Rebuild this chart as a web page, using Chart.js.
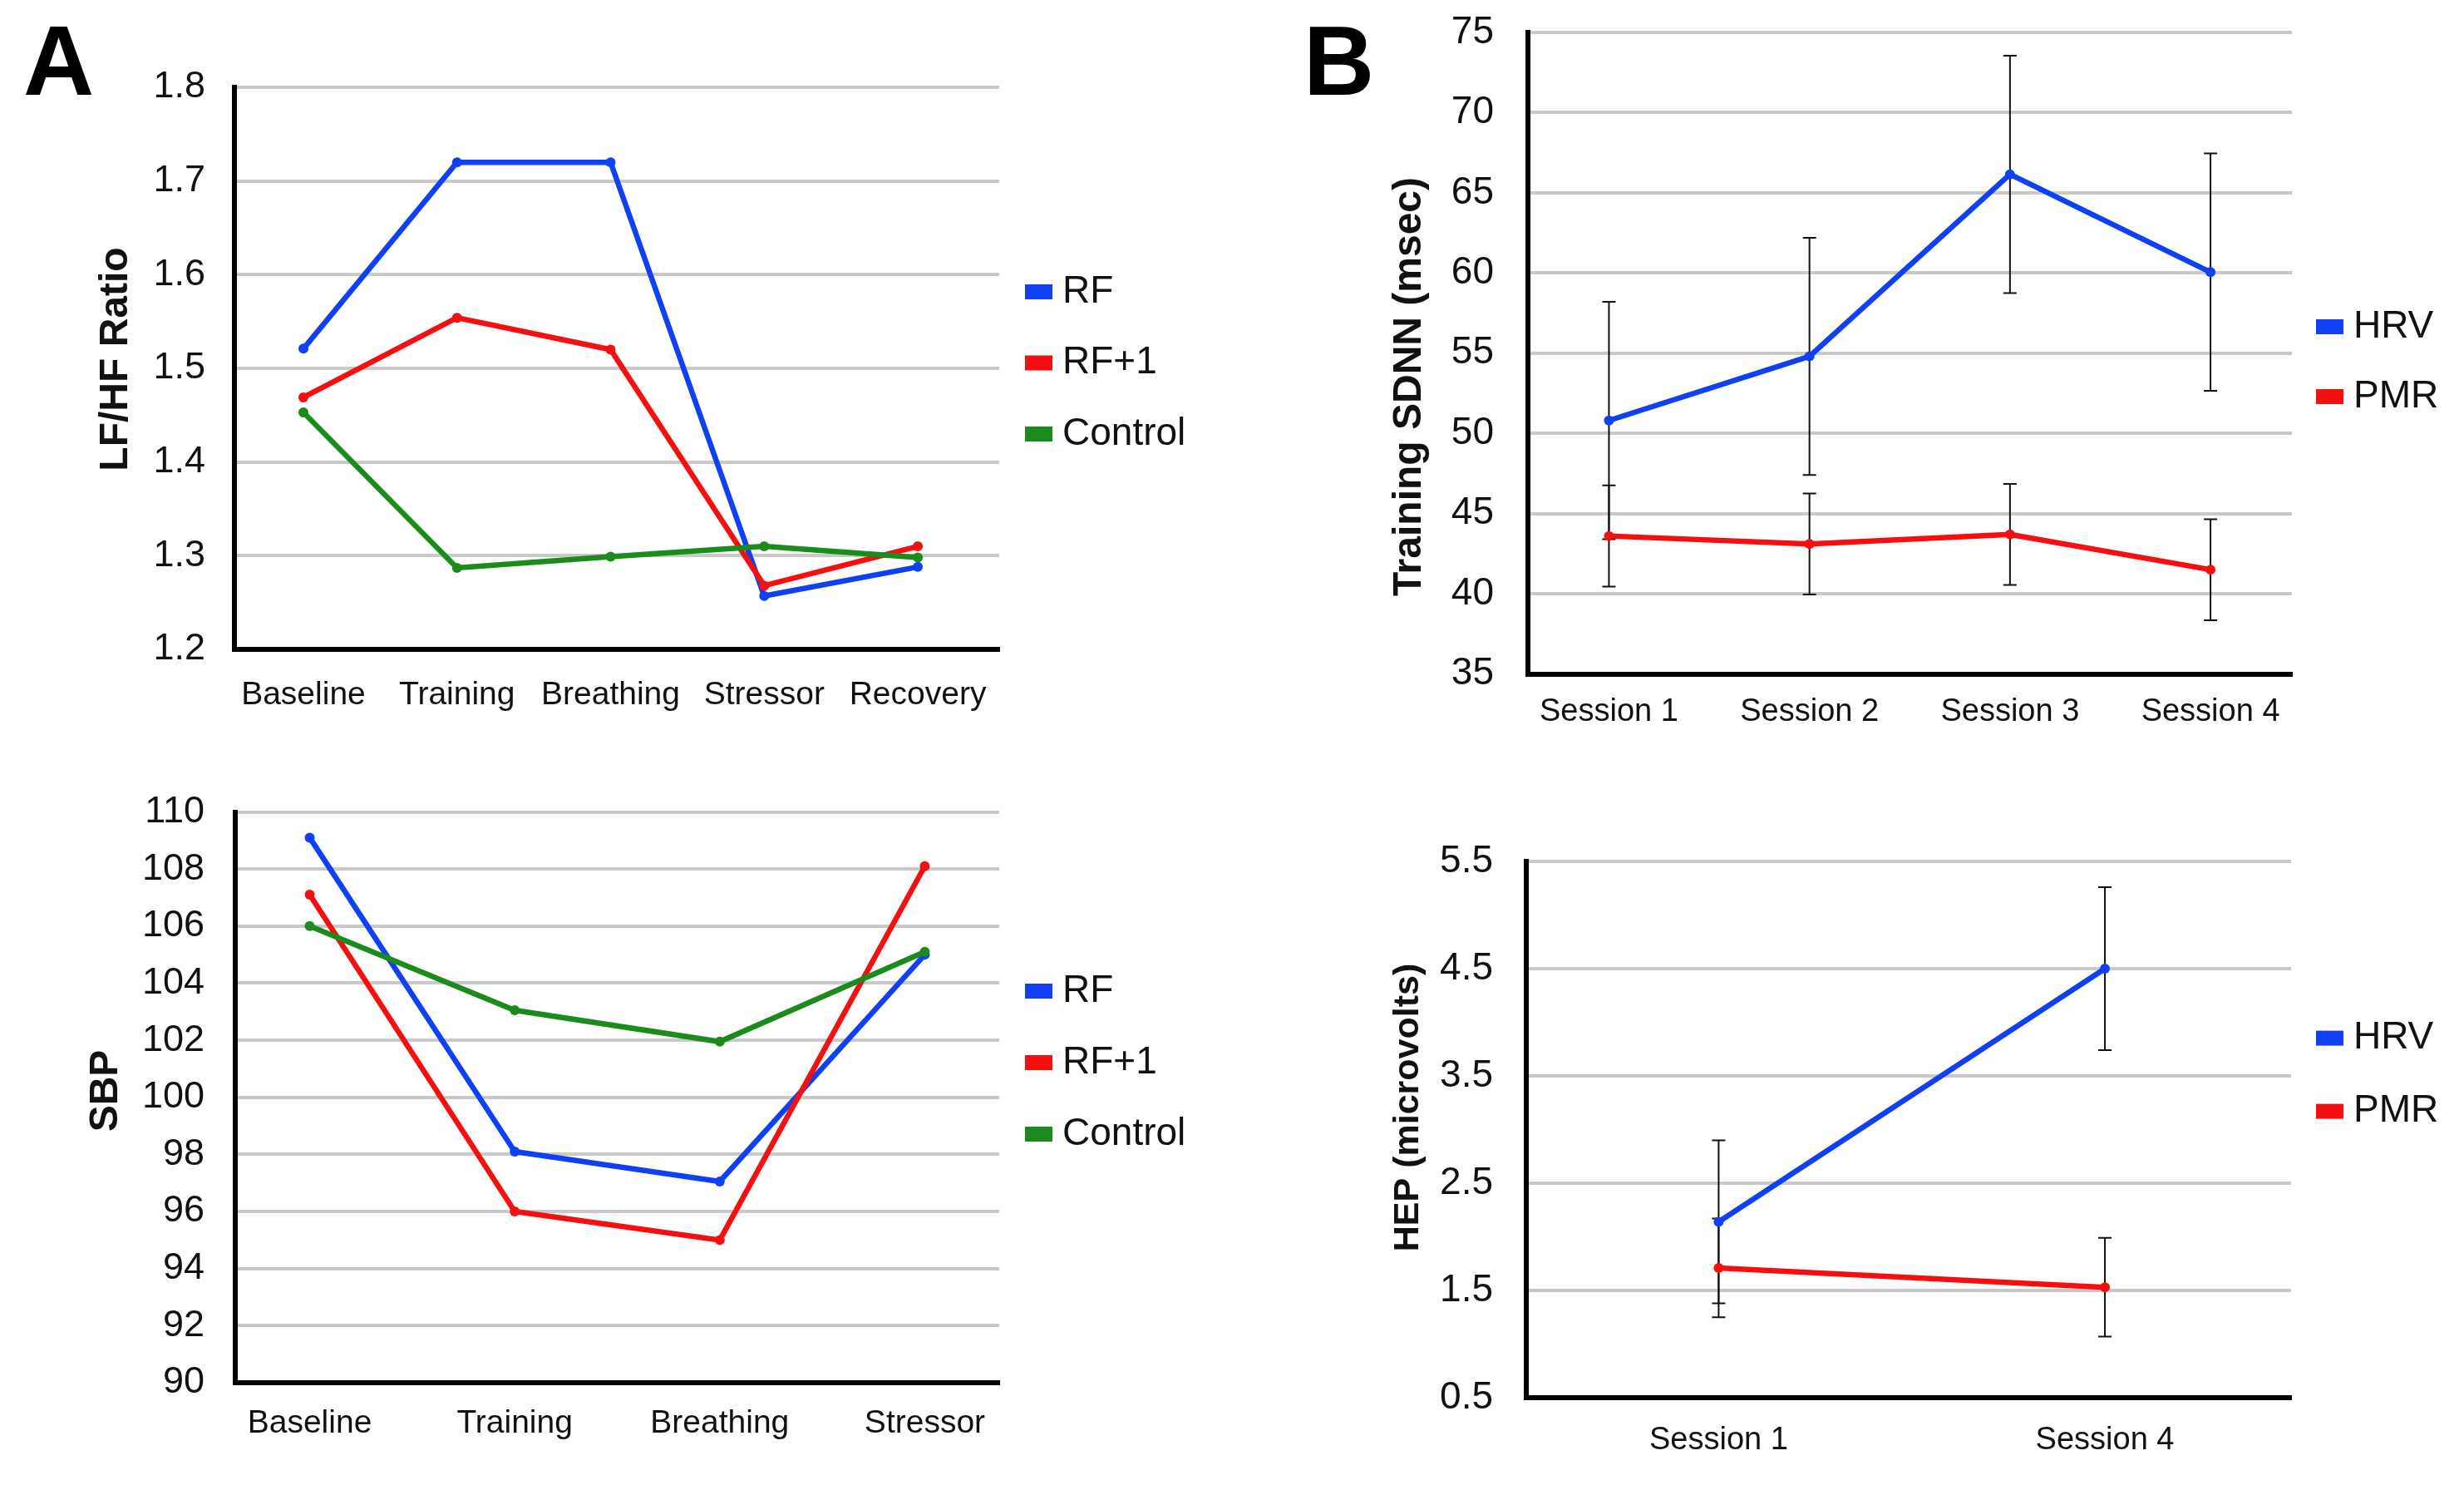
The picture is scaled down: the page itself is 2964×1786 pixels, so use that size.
<!DOCTYPE html>
<html>
<head>
<meta charset="utf-8">
<script src="https://cdn.jsdelivr.net/npm/chart.js@4.4.1/dist/chart.umd.min.js"></script>
<style>
    body { margin: 0; background: #fff; width: 2964px; height: 1786px; position: relative; overflow: hidden; }
    canvas { position: absolute; }
    .panel { position: absolute; font-family: "Liberation Sans", Arial, sans-serif; font-weight: bold; font-size: 118px; line-height: 1; color: #000; }
</style>
</head>
<body>
<div class="panel" style="left:28px;top:14px">A</div>
<div class="panel" style="left:1568px;top:14px">B</div>
<canvas id="lfhf" width="1480" height="893" style="left:0;top:0"></canvas>
<canvas id="sbp" width="1480" height="893" style="left:0;top:893px"></canvas>
<canvas id="sdnn" width="1484" height="893" style="left:1480px;top:0"></canvas>
<canvas id="hep" width="1484" height="893" style="left:1480px;top:893px"></canvas>
<script>
var fontFamily = '"Liberation Sans", Arial, sans-serif'
var blue = '#1040f4'
var red = '#f41010'
var green = '#1b8c1b'

// categories
var phases5 = ['Baseline', 'Training', 'Breathing', 'Stressor', 'Recovery']
var phases4 = ['Baseline', 'Training', 'Breathing', 'Stressor']
var sessions4 = ['Session 1', 'Session 2', 'Session 3', 'Session 4']
var sessions2 = ['Session 1', 'Session 4']

// A top: LF/HF ratio
var lfhfRF = [1.521, 1.72, 1.72, 1.257, 1.288]
var lfhfRF1 = [1.469, 1.554, 1.52, 1.268, 1.31]
var lfhfControl = [1.453, 1.287, 1.299, 1.31, 1.298]

// A bottom: SBP
var sbpRF = [109.1, 98.1, 97.05, 105.0]
var sbpRF1 = [107.1, 96.0, 95.0, 108.1]
var sbpControl = [106.0, 103.05, 101.95, 105.1]

// B top: training SDNN (msec) with error bars
var sdnnHRV = [50.8, 54.8, 66.15, 60.05]
var sdnnHRVErr = [7.4, 7.4, 7.4, 7.4]
var sdnnPMR = [43.6, 43.1, 43.7, 41.5]
var sdnnPMRErr = [3.15, 3.15, 3.15, 3.15]

// B bottom: HEP (microvolts) with error bars
var hepHRV = [2.14, 4.5]
var hepHRVErr = [0.76, 0.76]
var hepPMR = [1.71, 1.53]
var hepPMRErr = [0.46, 0.46]

Chart.defaults.font.family = fontFamily
Chart.defaults.color = '#111'

//error bars go under the lines like the original
var errorBars = {
    id: 'errorBars',
    beforeDatasetsDraw: function (chart) {
        var ctx = chart.ctx
        var yScale = chart.scales.y
        ctx.save()
        ctx.strokeStyle = '#111'
        ctx.lineWidth = 2
        chart.data.datasets.forEach(function (ds, i) {
            if (!ds.errors) return
            chart.getDatasetMeta(i).data.forEach(function (pt, j) {
                var v = ds.data[j].y
                var e = ds.errors[j]
                var top = yScale.getPixelForValue(v + e)
                var bot = yScale.getPixelForValue(v - e)
                ctx.beginPath()
                ctx.moveTo(pt.x, top)
                ctx.lineTo(pt.x, bot)
                ctx.moveTo(pt.x - 8, top)
                ctx.lineTo(pt.x + 8, top)
                ctx.moveTo(pt.x - 8, bot)
                ctx.lineTo(pt.x + 8, bot)
                ctx.stroke()
            })
        })
        ctx.restore()
    }
}

var sideLegend = {
    id: 'sideLegend',
    afterDraw: function (chart, args, opts) {
        var ctx = chart.ctx
        ctx.save()
        ctx.font = opts.size + 'px ' + fontFamily
        ctx.textBaseline = 'middle'
        chart.data.datasets.forEach(function (ds, i) {
            var y = opts.top + i * opts.gap
            ctx.fillStyle = ds.borderColor
            ctx.fillRect(opts.left, y - 9, 33, 18)
            ctx.fillStyle = '#111'
            ctx.fillText(ds.label, opts.left + 45, y)
        })
        ctx.restore()
    }
}

var sideTitle = {
    id: 'sideTitle',
    afterDraw: function (chart, args, opts) {
        var ctx = chart.ctx
        ctx.save()
        ctx.translate(opts.x, opts.y)
        ctx.rotate(-Math.PI / 2)
        ctx.font = 'bold ' + opts.size + 'px ' + fontFamily
        ctx.textAlign = 'center'
        ctx.textBaseline = 'middle'
        ctx.fillStyle = '#111'
        ctx.fillText(opts.text, 0, 0)
        ctx.restore()
    }
}

function lineSet(label, color, values, errors, order) {
    return {
        label: label,
        data: values.map(function (v, i) { return { x: i, y: v } }),
        errors: errors,
        borderColor: color,
        backgroundColor: color,
        borderWidth: 6.5,
        pointRadius: 6,
        pointHoverRadius: 6,
        pointBorderWidth: 0,
        tension: 0,
        order: order
    }
}

function newLineChart(id, labels, sets, o) {
    var canvas = document.getElementById(id)
    new Chart(canvas.getContext('2d'), {
        type: 'line',
        data: { datasets: sets },
        plugins: [errorBars, sideLegend, sideTitle],
        options: {
            responsive: false,
            animation: false,
            devicePixelRatio: 1,
            layout: {
                autoPadding: false,
                padding: { top: o.top, right: canvas.width - o.right, left: 0, bottom: 0 }
            },
            plugins: {
                legend: { display: false },
                tooltip: { enabled: false },
                sideLegend: o.legend,
                sideTitle: o.title
            },
            scales: {
                x: {
                    type: 'linear',
                    min: o.xMin,
                    max: o.xMax,
                    grid: { display: false, drawTicks: false },
                    border: { color: '#000', width: 6 },
                    afterFit: function (s) {
                        s.height = canvas.height - o.bottom
                        s.paddingLeft = s.paddingRight = s.paddingTop = s.paddingBottom = 0
                    },
                    afterBuildTicks: function (s) {
                        s.ticks = labels.map(function (l, i) { return { value: i } })
                    },
                    ticks: {
                        padding: o.xPad,
                        font: { size: o.xSize },
                        maxRotation: 0,
                        autoSkip: false,
                        callback: function (v) { return labels[v] }
                    }
                },
                y: {
                    min: o.yMin,
                    max: o.yMax,
                    grid: { color: '#c9c9c9', lineWidth: 4, drawTicks: false },
                    border: { color: '#000', width: 6 },
                    afterFit: function (s) {
                        s.width = o.left
                        s.paddingLeft = s.paddingRight = s.paddingTop = s.paddingBottom = 0
                    },
                    ticks: {
                        stepSize: o.yStep,
                        padding: o.yPad,
                        font: { size: o.ySize },
                        callback: function (v) { return o.yDigits ? v.toFixed(o.yDigits) : String(v) }
                    }
                }
            }
        }
    })
}

newLineChart('lfhf', phases5, [
    lineSet('RF', blue, lfhfRF, null, 3),
    lineSet('RF+1', red, lfhfRF1, null, 2),
    lineSet('Control', green, lfhfControl, null, 1)
], {
    left: 282, top: 105, right: 1202, bottom: 781,
    xMin: -0.449, xMax: 4.53, xPad: 32, xSize: 39,
    yMin: 1.2, yMax: 1.8, yStep: 0.1, yDigits: 1, yPad: 35, ySize: 45,
    legend: { left: 1233, top: 351, gap: 85.5, size: 46 },
    title: { text: 'LF/HF Ratio', x: 140, y: 432, size: 48 }
})

newLineChart('sbp', phases4, [
    lineSet('RF', blue, sbpRF, null, 3),
    lineSet('RF+1', red, sbpRF1, null, 2),
    lineSet('Control', green, sbpControl, null, 1)
], {
    left: 283, top: 83.5, right: 1202, bottom: 770,
    xMin: -0.363, xMax: 3.363, xPad: 26, xSize: 39,
    yMin: 90, yMax: 110, yStep: 2, yDigits: 0, yPad: 37, ySize: 45,
    legend: { left: 1233, top: 299, gap: 86, size: 46 },
    title: { text: 'SBP', x: 128, y: 419, size: 48 }
})

newLineChart('sdnn', sessions4, [
    lineSet('HRV', blue, sdnnHRV, sdnnHRVErr, 2),
    lineSet('PMR', red, sdnnPMR, sdnnPMRErr, 1)
], {
    left: 358, top: 39, right: 1277, bottom: 810.5,
    xMin: -0.404, xMax: 3.406, xPad: 23, xSize: 38,
    yMin: 35, yMax: 75, yStep: 5, yDigits: 0, yPad: 41, ySize: 46,
    legend: { left: 1306, top: 393, gap: 84, size: 46 },
    title: { text: 'Training SDNN (msec)', x: 216, y: 465, size: 48 }
})

newLineChart('hep', sessions2, [
    lineSet('HRV', blue, hepHRV, hepHRVErr, 2),
    lineSet('PMR', red, hepPMR, hepPMRErr, 1)
], {
    left: 356, top: 143, right: 1276, bottom: 788,
    xMin: -0.498, xMax: 1.482, xPad: 29, xSize: 38,
    yMin: 0.5, yMax: 5.5, yStep: 1, yDigits: 1, yPad: 40, ySize: 46,
    legend: { left: 1306, top: 355.6, gap: 88, size: 46 },
    title: { text: 'HEP (microvolts)', x: 214, y: 439, size: 43 }
})
</script>
</body>
</html>
